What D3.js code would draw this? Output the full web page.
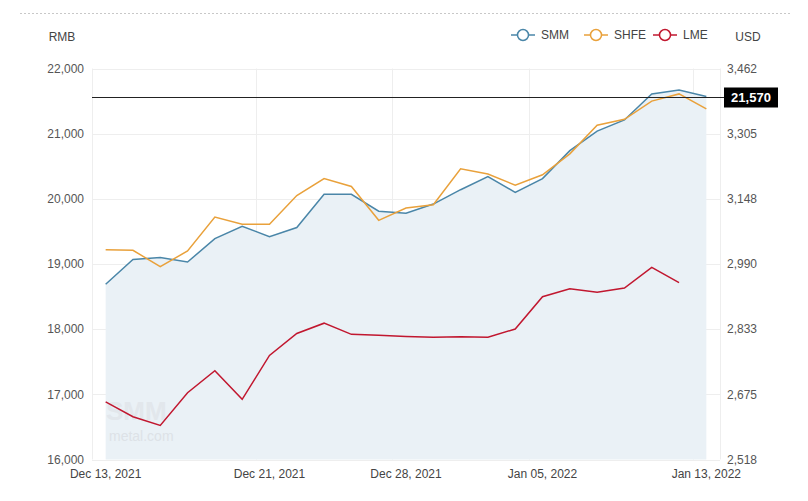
<!DOCTYPE html>
<html>
<head>
<meta charset="utf-8">
<script src="https://cdn.jsdelivr.net/npm/d3@7"></script>
<style>
  body { margin: 0; background: #fff; }
  text { font-family: "Liberation Sans", Arial, sans-serif; }
</style>
</head>
<body>
<div id="plot"></div>
<script>
// trading days on the category axis
var dates = ["2021-12-13","2021-12-14","2021-12-15","2021-12-16","2021-12-17",
             "2021-12-20","2021-12-21","2021-12-22","2021-12-23","2021-12-24",
             "2021-12-27","2021-12-28","2021-12-29","2021-12-30","2021-12-31",
             "2022-01-04","2022-01-05","2022-01-06","2022-01-07","2022-01-10",
             "2022-01-11","2022-01-12","2022-01-13"];
var labelDates = ["2021-12-13","2021-12-21","2021-12-28","2022-01-05","2022-01-13"];

// SMM and SHFE in RMB (left axis), LME in USD (right axis)
var smm  = [18690,19070,19100,19030,19390,19580,19420,19560,20070,20070,19810,19780,
            19920,20140,20340,20100,20310,20740,21040,21210,21610,21670,21570];
var shfe = [19220,19210,18960,19200,19720,19610,19610,20050,20310,20190,19670,19860,
            19910,20460,20380,20210,20370,20690,21130,21220,21500,21610,21380];
var lme  = [2657,2621,2600,2679,2732,2663,2769,2822,2847,2820,2818,2815,
            2813,2814,2813,2833,2911,2930,2922,2932,2982,2945];

var leftTicks  = [16000,17000,18000,19000,20000,21000,22000];
var rightTicks = [2518,2675,2833,2990,3148,3305,3462];
var lastPrice = 21570;

var seriesNames  = ["SMM","SHFE","LME"];
var seriesColors = ["#4a86a8","#e9a13b","#c1172f"];

var W = 808, H = 501;
var margin = {top: 68.5, right: 88, bottom: 41.5, left: 92};

var svg = d3.select("#plot").append("svg")
    .attr("width", W)
    .attr("height", H);

var parseDate = d3.timeParse("%Y-%m-%d");
var fmtDate = d3.timeFormat("%b %d, %Y");

var X = d3.scaleBand()
    .domain(dates)
    .range([margin.left, W - margin.right])
    .padding(0);
var bw = X.bandwidth();
function cx(d) { return X(d) + bw / 2; }

var Y = d3.scaleLinear()
    .domain([16000, 22000])
    .range([H - margin.bottom, margin.top]);

var Yr = d3.scaleLinear()
    .domain([2517.6, 3462.4])
    .range([H - margin.bottom, margin.top]);

// top dashed separator
svg.append("line")
    .attr("x1", 20).attr("x2", 790)
    .attr("y1", 13.5).attr("y2", 13.5)
    .attr("stroke", "#c8c8c8")
    .style("stroke-dasharray", "2,2");

// horizontal grid
svg.append("g").selectAll("line")
    .data(leftTicks)
    .enter().append("line")
    .attr("x1", margin.left).attr("x2", W - margin.right)
    .attr("y1", function(d) { return Math.round(Y(d)) + 0.5; })
    .attr("y2", function(d) { return Math.round(Y(d)) + 0.5; })
    .attr("stroke", "#eeeeee");

// vertical grid at band edges of the labelled days, plus the plot edges
var vgrid = labelDates.slice(1).map(function(d) { return X(d); });
vgrid.unshift(margin.left);
vgrid.push(W - margin.right);
svg.append("g").selectAll("line")
    .data(vgrid)
    .enter().append("line")
    .attr("x1", function(d) { return Math.round(d) + 0.5; })
    .attr("x2", function(d) { return Math.round(d) + 0.5; })
    .attr("y1", margin.top).attr("y2", H - margin.bottom)
    .attr("stroke", "#eeeeee");

// SMM area
var area = d3.area()
    .x(function(d, i) { return cx(dates[i]); })
    .y0(Y(16000))
    .y1(function(d) { return Y(d); });
svg.append("path")
    .datum(smm)
    .attr("fill", "#eaf1f6")
    .attr("d", area);

// watermark
svg.append("text")
    .attr("x", 106).attr("y", 420)
    .style("font-size", "26px")
    .style("font-weight", "bold")
    .attr("fill", "#dfe3e8")
    .attr("opacity", 0.7)
    .text("SMM");
svg.append("text")
    .attr("x", 109).attr("y", 441)
    .style("font-size", "14px")
    .attr("fill", "#dde2e7")
    .text("metal.com");

// lines
var lineL = d3.line()
    .x(function(d, i) { return cx(dates[i]); })
    .y(function(d) { return Y(d); });
var lineR = d3.line()
    .x(function(d, i) { return cx(dates[i]); })
    .y(function(d) { return Yr(d); });

svg.append("path").datum(smm)
    .attr("fill", "none").attr("stroke", seriesColors[0]).attr("stroke-width", 1.5)
    .attr("d", lineL);
svg.append("path").datum(shfe)
    .attr("fill", "none").attr("stroke", seriesColors[1]).attr("stroke-width", 1.5)
    .attr("d", lineL);
svg.append("path").datum(lme)
    .attr("fill", "none").attr("stroke", seriesColors[2]).attr("stroke-width", 1.5)
    .attr("d", lineR);

// last price marker
var yLast = Math.round(Y(lastPrice)) + 0.5;
svg.append("line")
    .attr("x1", margin.left).attr("x2", 724)
    .attr("y1", yLast).attr("y2", yLast)
    .attr("stroke", "#222").attr("stroke-width", 1);
svg.append("rect")
    .attr("x", 724).attr("y", yLast - 10)
    .attr("width", 54).attr("height", 20)
    .attr("fill", "#000");
svg.append("text")
    .attr("x", 751).attr("y", yLast)
    .attr("dy", "0.35em")
    .attr("text-anchor", "middle")
    .attr("fill", "#fff")
    .style("font-size", "13px")
    .style("font-weight", "bold")
    .text(d3.format(",")(lastPrice));

// left axis labels
var fmt = d3.format(",");
svg.append("g").selectAll("text")
    .data(leftTicks)
    .enter().append("text")
    .attr("x", 84)
    .attr("y", function(d) { return Y(d); })
    .attr("dy", "0.35em")
    .attr("text-anchor", "end")
    .attr("fill", "#555")
    .style("font-size", "12px")
    .text(function(d) { return fmt(d); });

// right axis labels
svg.append("g").selectAll("text")
    .data(rightTicks)
    .enter().append("text")
    .attr("x", 727)
    .attr("y", function(d, i) { return Y(leftTicks[i]); })
    .attr("dy", "0.35em")
    .attr("fill", "#555")
    .style("font-size", "12px")
    .text(function(d) { return fmt(d); });

// x labels
svg.append("g").selectAll("text")
    .data(labelDates)
    .enter().append("text")
    .attr("x", function(d) { return cx(d); })
    .attr("y", 474)
    .attr("dy", "0.35em")
    .attr("text-anchor", "middle")
    .attr("fill", "#444")
    .style("font-size", "12px")
    .text(function(d) { return fmtDate(parseDate(d)); });

// unit labels
svg.append("text").attr("x", 62).attr("y", 37).attr("dy", "0.35em")
    .attr("text-anchor", "middle").attr("fill", "#444").style("font-size", "12px").text("RMB");
svg.append("text").attr("x", 748).attr("y", 37).attr("dy", "0.35em")
    .attr("text-anchor", "middle").attr("fill", "#444").style("font-size", "12px").text("USD");

// legend
var legX = [523, 596, 665];
var leg = svg.append("g").selectAll("g")
    .data(seriesNames)
    .enter().append("g")
    .attr("transform", function(d, i) { return "translate(" + legX[i] + ",35)"; });
leg.append("line")
    .attr("x1", -12).attr("x2", 12)
    .attr("stroke", function(d, i) { return seriesColors[i]; })
    .attr("stroke-width", 1.5);
leg.append("circle")
    .attr("r", 5.5)
    .attr("fill", "#fff")
    .attr("stroke", function(d, i) { return seriesColors[i]; })
    .attr("stroke-width", 1.5);
leg.append("text")
    .attr("x", 18).attr("dy", "0.35em")
    .attr("fill", "#444")
    .style("font-size", "12px")
    .text(function(d) { return d; });
</script>
</body>
</html>
